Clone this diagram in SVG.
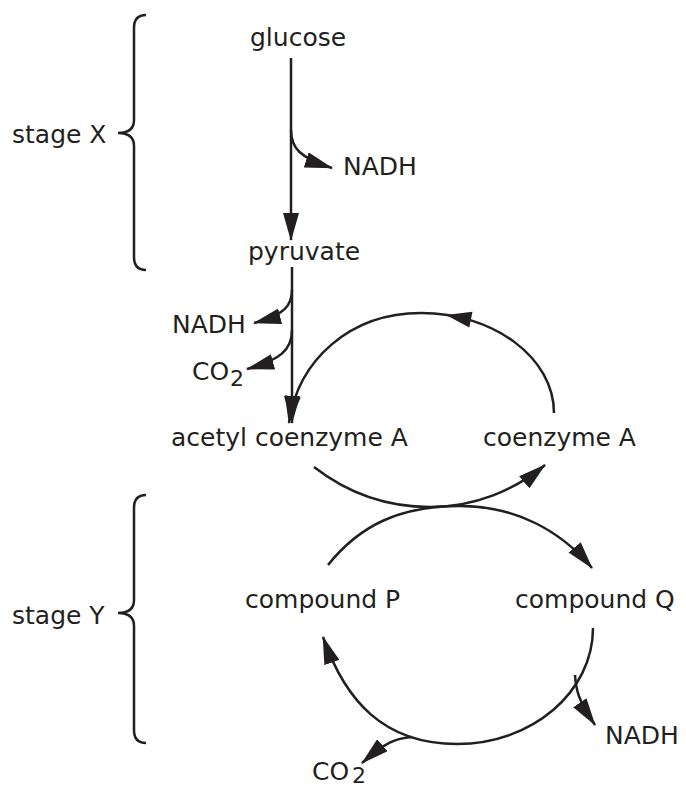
<svg xmlns="http://www.w3.org/2000/svg" width="686" height="789" viewBox="0 0 686 789">
<style>
text{font-family:"DejaVu Sans","Liberation Sans",sans-serif;font-size:25px;fill:#231f20}
.sub{font-size:22px}
.ln{fill:none;stroke:#231f20;stroke-width:2.5}
.arr{marker-end:url(#ah)}
.head{fill:#231f20}
</style>
<defs>
<marker id="ah" viewBox="0 0 28 16" refX="27" refY="8" markerWidth="28" markerHeight="16" markerUnits="userSpaceOnUse" orient="auto">
<path d="M0,0 L28,8 L0,16 z" fill="#231f20"/>
</marker>
</defs>
<rect width="686" height="789" fill="#ffffff"/>

<g id="stageX">
<path class="ln" d="M146,15 Q134,15 134,28 L134,120 Q134,133 118,133 Q134,133 134,146 L134,257 Q134,270 146,270"/>
<text x="12" y="143">stage X</text>
</g>
<g id="stageY">
<path class="ln" d="M146,495 Q134,495 134,508 L134,600 Q134,613 118,613 Q134,613 134,626 L134,730 Q134,743 146,743"/>
<text x="12" y="624">stage Y</text>
</g>

<g id="glucose"><text x="250" y="46">glucose</text></g>
<g id="nadh1"><text x="343" y="175">NADH</text></g>
<g id="pyruvate"><text x="248" y="260">pyruvate</text></g>
<g id="nadh2"><text x="172" y="333">NADH</text></g>
<g id="co2a"><text x="192" y="380">CO</text><text class="sub" x="230" y="386">2</text></g>
<g id="acetylCoA"><text x="171" y="446">acetyl coenzyme A</text></g>
<g id="coenzymeA"><text x="483" y="446">coenzyme A</text></g>
<g id="compoundP"><text x="245" y="608">compound P</text></g>
<g id="compoundQ"><text x="515" y="608">compound Q</text></g>
<g id="nadh3"><text x="605" y="744">NADH</text></g>
<g id="co2b"><text x="312" y="780">CO</text><text class="sub" x="352" y="783">2</text></g>

<g id="connectors">
<path class="ln arr" d="M291,58 L291,240"/>
<path class="ln arr" d="M291,130 C291,148 300,158 332,168"/>
<path class="ln arr" d="M292,267 L292,423"/>
<path class="ln arr" d="M292,290 C292,305 285,315 254,323"/>
<path class="ln arr" d="M292,330 C292,350 280,360 247,369"/>
<path class="ln arr" d="M554,413 C554,358 494,313 421,313 C350,313 298,360 289,423"/>
<polygon class="head" points="446,315 472.5,311.8 469.3,327.4"/>
<path class="ln arr" d="M314,467 C350,495 390,507 430,507 C475,507 515,490 545,465"/>
<path class="ln arr" d="M328,565 C360,525 400,506 460,506 C515,506 560,530 592,568"/>
<path class="ln arr" d="M593,628 C593,692 532,744 457,744 C383,744 345,700 323,637"/>
<path class="ln arr" d="M575,675 C576,690 578,700 595,725"/>
<path class="ln arr" d="M412,737 C395,738 385,743 362,763"/>
</g>
</svg>
